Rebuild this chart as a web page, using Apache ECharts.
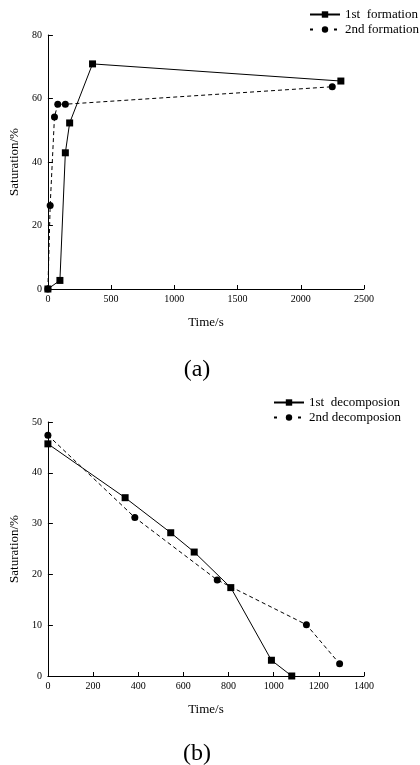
<!DOCTYPE html>
<html>
<head>
<meta charset="utf-8">
<script src="https://cdn.jsdelivr.net/npm/echarts@6/dist/echarts.min.js"></script>
<style>
  html, body { margin: 0; padding: 0; background: #fff; }
  #chart { width: 420px; height: 765px; }
</style>
</head>
<body>
<div id="chart"></div>
<script>
// (a) formation
const formation1X = [0, 95, 138, 172, 353, 2317];
const formation1Y = [0, 2.7, 42.9, 52.3, 70.9, 65.5];
const formation2X = [0, 18, 52, 78, 138, 2249];
const formation2Y = [0, 26.3, 54.2, 58.2, 58.2, 63.7];

// (b) decomposition
const decomp1X = [0, 342, 544, 648, 810, 990, 1080];
const decomp1Y = [45.7, 35.1, 28.2, 24.4, 17.4, 3.1, 0];
const decomp2X = [0, 385, 750, 1145, 1292];
const decomp2Y = [47.4, 31.2, 18.9, 10.1, 2.4];

const seriesNames = ['1st  formation', '2nd formation', '1st  decomposion', '2nd decomposion'];
const panelLabels = ['(a)', '(b)'];

const serif = '"Liberation Serif", "Times New Roman", serif';
const zip = (xs, ys) => xs.map((x, i) => [x, ys[i]]);

const xAxisOf = (idx, max, interval) => ({
  gridIndex: idx,
  type: 'value',
  min: 0,
  max: max,
  interval: interval,
  name: 'Time/s',
  nameLocation: 'middle',
  nameGap: 27,
  nameTextStyle: { fontFamily: serif, fontSize: 13, color: '#000' },
  axisLine: { show: true, onZero: false, lineStyle: { color: '#000', width: 1 } },
  axisTick: { show: true, inside: true, length: 4, lineStyle: { color: '#000' } },
  axisLabel: { fontFamily: serif, fontSize: 10, color: '#000', margin: 5, formatter: v => String(v) },
  splitLine: { show: false }
});

const yAxisOf = (idx, max, interval) => ({
  gridIndex: idx,
  type: 'value',
  min: 0,
  max: max,
  interval: interval,
  name: 'Saturation/%',
  nameLocation: 'middle',
  nameGap: 16,
  nameTextStyle: { fontFamily: serif, fontSize: 13, color: '#000' },
  axisLine: { show: true, onZero: false, lineStyle: { color: '#000', width: 1 } },
  axisTick: { show: true, inside: true, length: 5, lineStyle: { color: '#000' } },
  axisLabel: { fontFamily: serif, fontSize: 10, color: '#000', margin: 6, formatter: v => String(v) },
  splitLine: { show: false }
});

const lineSeries = (name, idx, data, symbol, dashed, z) => ({
  name: name,
  type: 'line',
  xAxisIndex: idx,
  yAxisIndex: idx,
  data: data,
  symbol: symbol,
  symbolSize: 7,
  clip: false,
  z: z,
  itemStyle: { color: '#000' },
  lineStyle: { color: '#000', width: 1, type: dashed ? [4, 3] : 'solid' },
  emphasis: { disabled: true },
  animation: false
});

const legendOf = (names, left, top) => ({
  data: [
    { name: names[0] },
    { name: names[1], lineStyle: { type: [3, 9] } }
  ],
  orient: 'vertical',
  left: left,
  top: top,
  padding: 0,
  itemWidth: 30,
  itemHeight: 8,
  itemGap: 2,
  textStyle: { fontFamily: serif, fontSize: 13, color: '#000' },
  selectedMode: false
});

const chart = echarts.init(document.getElementById('chart'), null, { renderer: 'canvas' });
chart.setOption({
  backgroundColor: '#fff',
  animation: false,
  grid: [
    { left: 45, right: 56, top: 35, bottom: 476 },
    { left: 45, right: 56, top: 422, bottom: 89 }
  ],
  xAxis: [xAxisOf(0, 2500, 500), xAxisOf(1, 1400, 200)],
  yAxis: [yAxisOf(0, 80, 20), yAxisOf(1, 50, 10)],
  legend: [
    legendOf(seriesNames.slice(0, 2), 309, 8),
    legendOf(seriesNames.slice(2, 4), 273, 396)
  ],
  series: [
    lineSeries(seriesNames[0], 0, zip(formation1X, formation1Y), 'rect', false, 3),
    lineSeries(seriesNames[1], 0, zip(formation2X, formation2Y), 'circle', true, 2),
    lineSeries(seriesNames[2], 1, zip(decomp1X, decomp1Y), 'rect', false, 3),
    lineSeries(seriesNames[3], 1, zip(decomp2X, decomp2Y), 'circle', true, 2)
  ],
  graphic: [
    { type: 'text', x: 197, y: 370, style: { text: panelLabels[0], font: '24px ' + serif, fill: '#000', align: 'center', verticalAlign: 'middle' } },
    { type: 'text', x: 197, y: 754, style: { text: panelLabels[1], font: '24px ' + serif, fill: '#000', align: 'center', verticalAlign: 'middle' } }
  ]
});
</script>
</body>
</html>
